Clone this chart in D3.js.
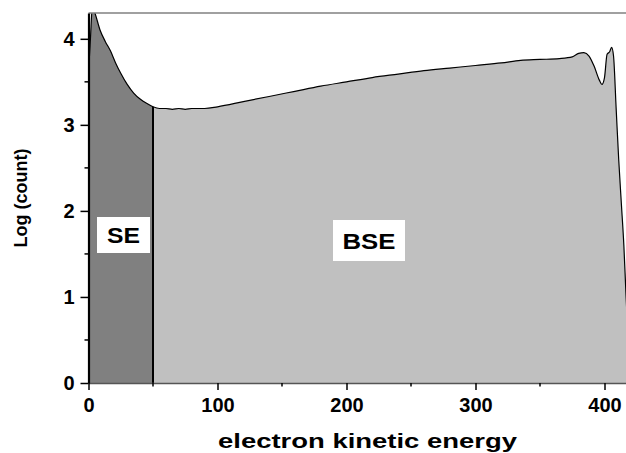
<!DOCTYPE html>
<html>
<head>
<meta charset="utf-8">
<script src="https://cdn.jsdelivr.net/npm/d3@7"></script>
<style>
    body { margin: 0; background: #fff; }
    text { font-family: "Liberation Sans", Arial, sans-serif; font-weight: bold; }
</style>
</head>
<body>
<svg id="chart" width="626" height="453"></svg>
<script>
// spectrum
var energy = [0, 1.5, 3, 5, 9, 13, 17, 21, 25, 30, 35, 40, 45, 50, 55, 60, 65, 70, 75, 80, 90, 100,
    120, 140, 160, 180, 200, 220, 240, 260, 280, 300, 320, 335, 350, 365, 375, 380, 384, 388,
    392, 396, 398, 400, 402, 404, 405.5, 407, 409, 411, 413, 415, 416.6, 418, 420];
var logCount = [3.6, 4.0, 4.38, 4.3, 4.1, 3.97, 3.86, 3.72, 3.6, 3.47, 3.37, 3.3, 3.25, 3.21, 3.19, 3.19, 3.18, 3.19, 3.18, 3.19, 3.19, 3.21,
    3.27, 3.33, 3.39, 3.45, 3.5, 3.55, 3.59, 3.63, 3.66, 3.69, 3.72, 3.75, 3.76, 3.77, 3.79, 3.83, 3.84, 3.8,
    3.68, 3.52, 3.47, 3.55, 3.82, 3.85, 3.9, 3.8, 3.2, 2.6, 2.1, 1.6, 1.05, 0.6, 0];
var xMajorTicks = [0, 100, 200, 300, 400];
var xMinorTicks = [50, 150, 250, 350];
var yMajorTicks = [0, 1, 2, 3, 4];
var yMinorTicks = [0.5, 1.5, 2.5, 3.5];
var seLimit = 50;
var regionLabels = ["SE", "BSE"];

var data = energy.map(function (e, i) { return { x: e, y: logCount[i] }; });

var svg = d3.select("#chart");
var plotLeft = 88.5, plotTop = 13, plotBottom = 383;

var xScale = d3.scaleLinear().domain([0, 420]).range([plotLeft, plotLeft + 420 * 1.29]);
var yScale = d3.scaleLinear().domain([0, 4.3]).range([plotBottom, plotTop]);

svg.append("clipPath").attr("id", "plotClip")
    .append("rect")
    .attr("x", plotLeft).attr("y", plotTop)
    .attr("width", 626 - plotLeft).attr("height", plotBottom - plotTop);

svg.append("clipPath").attr("id", "seClip")
    .append("rect")
    .attr("x", plotLeft).attr("y", plotTop)
    .attr("width", xScale(seLimit) - plotLeft).attr("height", plotBottom - plotTop);

var area = d3.area()
    .x(function (d) { return xScale(d.x); })
    .y0(yScale(0))
    .y1(function (d) { return yScale(d.y); })
    .curve(d3.curveMonotoneX);

var line = d3.line()
    .x(function (d) { return xScale(d.x); })
    .y(function (d) { return yScale(d.y); })
    .curve(d3.curveMonotoneX);

var plot = svg.append("g").attr("clip-path", "url(#plotClip)");

plot.append("path")
    .datum(data)
    .attr("d", area)
    .style("fill", "#c0c0c0");

plot.append("path")
    .datum(data)
    .attr("d", area)
    .attr("clip-path", "url(#seClip)")
    .style("fill", "#808080");

plot.append("path")
    .datum(data)
    .attr("d", line)
    .style("fill", "none")
    .attr("stroke", "black")
    .attr("stroke-width", 1.2);

// SE / BSE boundary
var yAtLimit = data.filter(function (d) { return d.x == seLimit; })[0].y;
plot.append("line")
    .attr("x1", xScale(seLimit)).attr("x2", xScale(seLimit))
    .attr("y1", yScale(0)).attr("y2", yScale(yAtLimit))
    .attr("stroke", "black")
    .attr("stroke-width", 2);

// frame top
svg.append("line")
    .attr("x1", plotLeft).attr("x2", 626)
    .attr("y1", plotTop).attr("y2", plotTop)
    .attr("stroke", "#808080")
    .attr("stroke-width", 1.5);

// x axis
var xAxis = svg.append("g")
    .attr("transform", "translate(0," + plotBottom + ")")
    .call(d3.axisBottom(xScale).tickValues(xMajorTicks).tickSize(7).tickSizeOuter(0).tickPadding(8));
xAxis.select(".domain").attr("stroke", "#555").attr("stroke-width", 1.5);
xAxis.selectAll(".tick line").attr("stroke", "black").attr("stroke-width", 1.5);
xAxis.selectAll(".tick text").style("font-size", "20px").attr("fill", "black");

svg.append("g")
    .attr("transform", "translate(0," + plotBottom + ")")
    .selectAll("line")
    .data(xMinorTicks)
    .enter()
    .append("line")
    .attr("x1", function (d) { return xScale(d); })
    .attr("x2", function (d) { return xScale(d); })
    .attr("y1", 0).attr("y2", 3.5)
    .attr("stroke", "black")
    .attr("stroke-width", 1.5);

// y axis
var yAxis = svg.append("g")
    .attr("transform", "translate(" + plotLeft + ",0)")
    .call(d3.axisLeft(yScale).tickValues(yMajorTicks).tickFormat(d3.format("d"))
        .tickSize(8).tickSizeOuter(0).tickPadding(6));
yAxis.select(".domain").attr("stroke", "black").attr("stroke-width", 2.2);
yAxis.selectAll(".tick line").attr("stroke", "black").attr("stroke-width", 1.5);
yAxis.selectAll(".tick text").style("font-size", "20px").attr("fill", "black");

svg.append("g")
    .attr("transform", "translate(" + plotLeft + ",0)")
    .selectAll("line")
    .data(yMinorTicks)
    .enter()
    .append("line")
    .attr("x1", -4).attr("x2", 0)
    .attr("y1", function (d) { return yScale(d); })
    .attr("y2", function (d) { return yScale(d); })
    .attr("stroke", "black")
    .attr("stroke-width", 1.5);

// axis titles
svg.append("text")
    .attr("x", 367.5).attr("y", 448)
    .attr("text-anchor", "middle")
    .attr("textLength", 299)
    .attr("lengthAdjust", "spacingAndGlyphs")
    .style("font-size", "21px")
    .text("electron kinetic energy");

svg.append("text")
    .attr("transform", "translate(27,198) rotate(-90)")
    .attr("text-anchor", "middle")
    .style("font-size", "18px")
    .text("Log (count)");

// region labels in white boxes
var boxes = [
    { label: regionLabels[0], x0: 97, x1: 150, y0: 217, y1: 253, base: 243, len: 33 },
    { label: regionLabels[1], x0: 333, x1: 405, y0: 220, y1: 261, base: 248.5, len: 53 }
];
boxes.forEach(function (b) {
    svg.append("rect")
        .attr("x", b.x0).attr("y", b.y0)
        .attr("width", b.x1 - b.x0).attr("height", b.y1 - b.y0)
        .style("fill", "white");
    svg.append("text")
        .attr("x", (b.x0 + b.x1) / 2)
        .attr("y", b.base)
        .attr("text-anchor", "middle")
        .attr("textLength", b.len)
        .attr("lengthAdjust", "spacingAndGlyphs")
        .style("font-size", "22px")
        .text(b.label);
});
</script>
</body>
</html>
